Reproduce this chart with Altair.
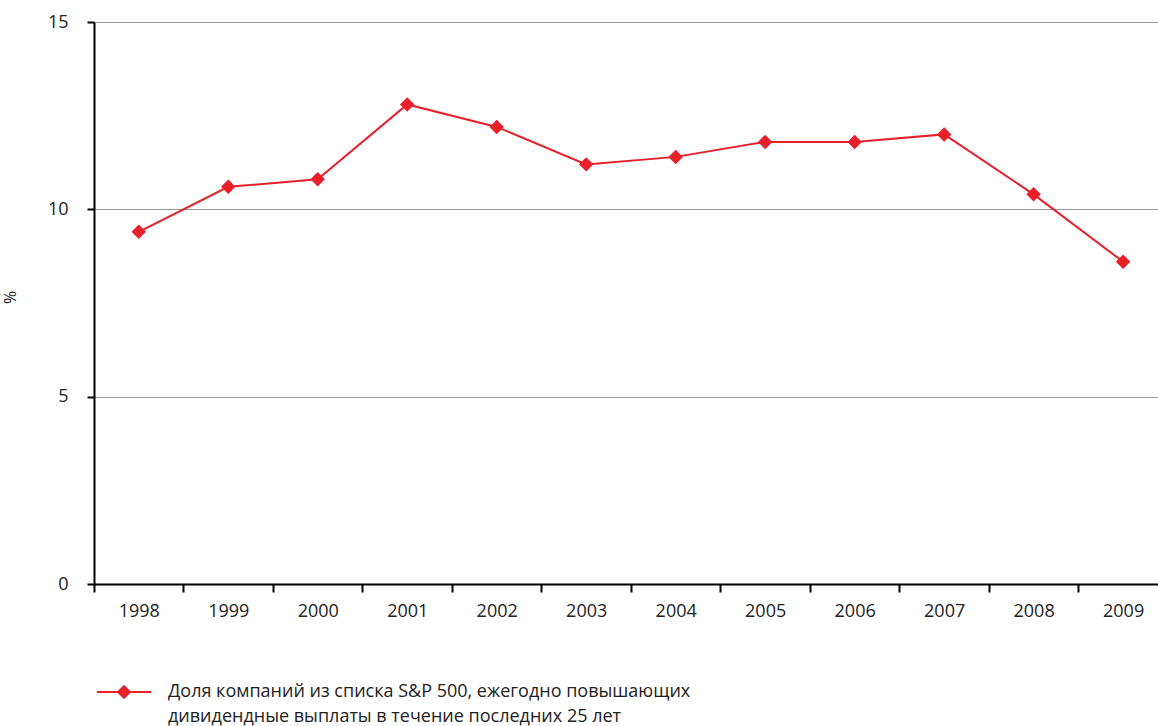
import altair as alt
import pandas as pd

years = [1998, 1999, 2000, 2001, 2002, 2003, 2004, 2005, 2006, 2007, 2008, 2009]
values = [9.4, 10.6, 10.8, 12.8, 12.2, 11.2, 11.4, 11.8, 11.8, 12.0, 10.4, 8.6]
y_ticks = [0, 5, 10, 15]
legend_label = "Доля компаний из списка S&P 500, ежегодно повышающих\nдивидендные выплаты в течение последних 25 лет"

RED = "#e8202a"
FONT = "Open Sans"

df = pd.DataFrame({"year": years, "value": values})

x = alt.X("year:Q",
          scale=alt.Scale(domain=[1997.5, 2009.39], nice=False, zero=False),
          axis=alt.Axis(values=years, format="d", tickOffset=-44.75, labelOffset=44.75, tickSize=8,
                        tickColor="black", tickWidth=2, domainColor="black", domainWidth=2,
                        labelPadding=10, labelFontSize=18, labelFont=FONT, labelColor="#222",
                        grid=False, title=None, labelFlush=False))
y = alt.Y("value:Q",
          scale=alt.Scale(domain=[0, 15], nice=False),
          axis=alt.Axis(values=y_ticks, tickSize=7, tickColor="black", tickWidth=2,
                        domainColor="black", domainWidth=2, labelPadding=19,
                        labelFontSize=18, labelFont=FONT, labelColor="#222",
                        grid=True, gridColor="#999", gridWidth=1,
                        gridOpacity=1,
                        title="%", titleFont=FONT, titleFontSize=16, titleFontWeight="normal",
                        titleColor="#222", titleX=-76, titleY=275, titleAngle=-90))

line = alt.Chart(df).mark_line(color=RED, strokeWidth=2).encode(x=x, y=y)
pts = alt.Chart(df).mark_point(shape="diamond", filled=True, color=RED, size=210, opacity=1).encode(x="year:Q", y="value:Q")

leg_df = pd.DataFrame({"label": [legend_label]})
leg_rule = alt.Chart(leg_df).mark_rule(color=RED, strokeWidth=2).encode(
    x=alt.value(3), x2=alt.value(57), y=alt.value(670))
leg_pt = alt.Chart(leg_df).mark_point(shape="diamond", filled=True, color=RED, size=210, opacity=1).encode(
    x=alt.value(30), y=alt.value(670))
leg_txt = alt.Chart(leg_df).mark_text(align="left", baseline="middle", font=FONT, fontSize=18,
                                      color="#222", lineBreak="\n", lineHeight=25).encode(
    x=alt.value(74), y=alt.value(670), text="label:N")

chart = alt.layer(line, pts, leg_rule, leg_pt, leg_txt).properties(
    width=1064, height=562,
    autosize=alt.AutoSizeParams(type="none"),
    padding={"left": 94, "top": 22, "right": 0, "bottom": 142},
).configure_view(stroke=None).configure(background="white")

chart.save("out.html", embed_options={"renderer": "svg", "actions": False})
